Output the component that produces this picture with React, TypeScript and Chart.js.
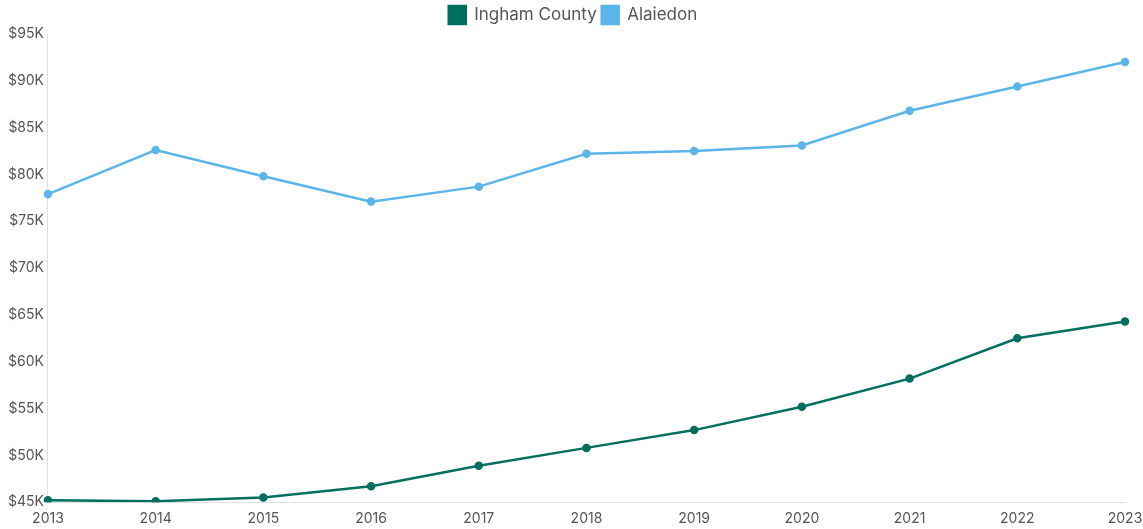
import React, { useEffect, useRef } from "react";
import { Chart, registerables } from "chart.js";

Chart.register(...registerables);

const years = ["2013", "2014", "2015", "2016", "2017", "2018", "2019", "2020", "2021", "2022", "2023"];
const inghamCounty = [45200, 45100, 45500, 46700, 48900, 50800, 52700, 55200, 58200, 62500, 64300];
const alaiedon = [77900, 82600, 79800, 77100, 78700, 82200, 82500, 83100, 86800, 89400, 92000];

const tealColor = "#016f60";
const blueColor = "#5bb5e9";

export default function App() {
  const ref = useRef<HTMLCanvasElement>(null);
  useEffect(() => {
    if (!ref.current) return;
    const chart = new Chart(ref.current, {
      type: "line",
      data: {
        labels: years,
        datasets: [
          {
            label: "Ingham County",
            data: inghamCounty,
            borderColor: tealColor,
            backgroundColor: tealColor,
            borderWidth: 2.5,
            pointRadius: 3,
            pointHoverRadius: 4,
            tension: 0,
          },
          {
            label: "Alaiedon",
            data: alaiedon,
            borderColor: blueColor,
            backgroundColor: blueColor,
            borderWidth: 2.5,
            pointRadius: 3,
            pointHoverRadius: 4,
            tension: 0,
          },
        ],
      },
      options: {
        animation: false,
        responsive: false,
        maintainAspectRatio: false,
        layout: { padding: { left: 4, right: 1, top: 1, bottom: -6 } },
        plugins: {
          legend: {
            position: "top",
            labels: {
              boxWidth: 17,
              boxHeight: 18,
              padding: 5,
              color: "#555",
              font: { family: "Inter", size: 17 },
            },
          },
          tooltip: { enabled: false },
        },
        scales: {
          x: {
            grid: { display: false, drawTicks: false },
            border: { display: true, color: "#e0e0e0" },
            ticks: { color: "#555", font: { family: "Inter", size: 14 }, padding: 8, maxRotation: 0 },
            offset: false,
            afterFit: (scale: any) => {
              scale.paddingRight = 18;
            },
          },
          y: {
            min: 45000,
            max: 95000,
            grid: { display: false, drawTicks: false },
            border: { display: true, color: "#e0e0e0" },
            ticks: {
              stepSize: 5000,
              color: "#555",
              font: { family: "Inter", size: 14 },
              padding: 4,
              callback: (v: any) => "$" + Math.round(Number(v) / 1000) + "K",
            },
          },
        },
      },
    });
    return () => chart.destroy();
  }, []);
  return (
    <div style={{ position: "absolute", left: 0, top: 0, width: 1143, height: 529 }}>
      <canvas ref={ref} width={1143} height={529} style={{ width: 1143, height: 529 }} />
    </div>
  );
}
